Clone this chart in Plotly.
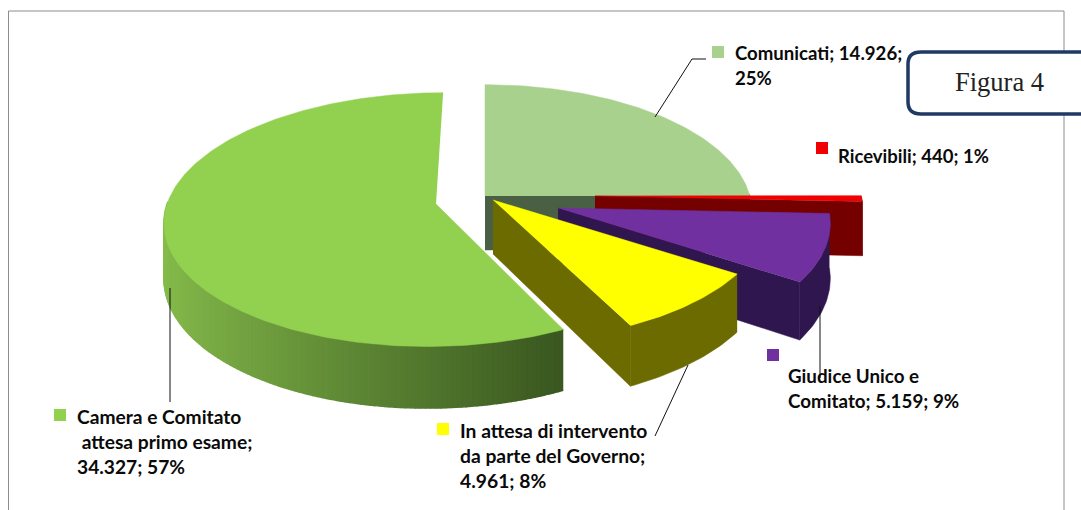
import math
import plotly.graph_objects as go

categories = ["Comunicati", "Ricevibili", "Giudice Unico e Comitato",
              "In attesa di intervento da parte del Governo",
              "Camera e Comitato attesa primo esame"]
values = [14926, 440, 5159, 4961, 34327]
label_lines = [["Comunicati; 14.926;", "25%"],
               ["Ricevibili; 440; 1%"],
               ["Giudice Unico e", "Comitato; 5.159; 9%"],
               ["In attesa di intervento", "da parte del Governo;", "4.961; 8%"],
               ["Camera e Comitato", " attesa primo esame;", "34.327; 57%"]]
top_colors = ["#A9D18E", "#F00000", "#7030A0", "#FFFF00", "#92D050"]
side_colors = ["#4A6044", "#740000", "#30164F", "#6B6B00", "#6FA23F"]
apexes = [(485, 196), (595, 196), (558, 208), (493, 200), (436, 204)]
skews = [0, 0, 0, 0, 8]
radial = [0.97, 0.975, 0.99, 1.0, 0.985]
label_pos = [(735, 53), (838, 156), (788, 375), (460, 430), (77, 416)]
label_sizes = [18.6, 18.5, 18.8, 19.3, 19.2]
swatch_pos = [(718, 52), (822, 148), (773, 355), (443, 429), (60, 415)]
leaders = [[(655, 117), (692, 59), (706, 59)],
           [(820, 306), (820, 378)],
           [(688, 365), (655, 436)],
           [(170, 288), (170, 402)]]

A, B, P, H = 273.0, 125.0, 0.123, 54.0
total = sum(values)


def project(apex, skew, phi, r=1.0, z=0.0, ax=1.0):
    X, Y = r * math.sin(phi), r * math.cos(phi)
    s = 1 / (1 + P * Y)
    return (apex[0] + (A * ax * X + skew * Y) * s, apex[1] - B * Y * s + z * s)


def lerp(c1, c2, t):
    a = [int(c1[i:i + 2], 16) for i in (1, 3, 5)]
    b = [int(c2[i:i + 2], 16) for i in (1, 3, 5)]
    return "rgb(%d,%d,%d)" % tuple(a[i] + (b[i] - a[i]) * t for i in range(3))


fig = go.Figure()


def poly(pts, color, width=0.5):
    fig.add_trace(go.Scatter(x=[p[0] for p in pts], y=[p[1] for p in pts],
                             mode="lines", fill="toself", fillcolor=color,
                             line=dict(color=color, width=width), hoverinfo="skip",
                             showlegend=False))


cum = 0.0
for i, v in enumerate(values):
    start = cum / total * 2 * math.pi
    cum += v
    end = cum / total * 2 * math.pi
    ap, sk, ax = apexes[i], skews[i], radial[i]
    # end radial face, visible when it looks towards the viewer
    if math.pi * 0.4 < end < math.pi * 1.1:
        poly([project(ap, sk, end, 0, 0, ax), project(ap, sk, end, 1, 0, ax),
              project(ap, sk, end, 1, H, ax), project(ap, sk, end, 0, H, ax)], side_colors[i])
    n = max(4, int((end - start) * 60))
    angs = [start + (end - start) * k / n for k in range(n + 1)]
    # outer wall, visible on the front half
    front = [a for a in angs if math.cos(a) <= 0.02]
    if len(front) > 1:
        if i == 4:
            for a0, a1 in zip(front, front[1:]):
                t = (math.sin((a0 + a1) / 2) + 0.97) / 1.4
                col = lerp("#85BB4B", "#3A5820", min(1, max(0, t)))
                poly([project(ap, sk, a0, 1, 0, ax), project(ap, sk, a1, 1, 0, ax),
                      project(ap, sk, a1, 1, H, ax), project(ap, sk, a0, 1, H, ax)], col, 1.5)
        else:
            poly([project(ap, sk, a, 1, 0, ax) for a in front] +
                 [project(ap, sk, a, 1, H, ax) for a in reversed(front)], side_colors[i])
    # top face
    poly([ap] + [project(ap, sk, a, 1, 0, ax) for a in angs], top_colors[i])

for line in leaders:
    fig.add_trace(go.Scatter(x=[p[0] for p in line], y=[p[1] for p in line], mode="lines",
                             line=dict(color="#111111", width=1), hoverinfo="skip",
                             showlegend=False))

fig.add_trace(go.Scatter(x=[p[0] for p in swatch_pos], y=[p[1] for p in swatch_pos], mode="markers",
                         marker=dict(symbol="square", size=12, color=top_colors, line=dict(width=0)),
                         hoverinfo="skip", showlegend=False))

annotations = []
for lines, (x, y), size in zip(label_lines, label_pos, label_sizes):
    for k, t in enumerate(lines):
        txt = t.replace(" ", "&nbsp;", 1) if t.startswith(" ") else t
        annotations.append(dict(x=x, y=y + k * 25, text="<b>" + txt + "</b>",
                                xref="x", yref="y", showarrow=False, xanchor="left", yanchor="middle",
                                xshift=-2, font=dict(family="Lato", size=size, color="#0A0A0A")))
annotations.append(dict(x=999, y=82, text="Figura 4", xref="x", yref="y", showarrow=False,
                        font=dict(family="Liberation Serif", size=26.5, color="#222222")))

shapes = [
    dict(type="rect", xref="x", yref="y", x0=8.5, y0=11, x1=1064, y1=530, layer="below",
         line=dict(color="#8C8C8C", width=1), fillcolor="white"),
    dict(type="path", xref="x", yref="y", layer="above",
         path="M 1100 52 L 921 52 Q 908 52 908 64 L 908 102 Q 908 114 921 114 L 1100 114 Z",
         line=dict(color="#1F3864", width=3.5), fillcolor="white"),
]

fig.update_layout(
    width=1081, height=510, margin=dict(l=0, r=0, t=0, b=0),
    paper_bgcolor="white", plot_bgcolor="white", showlegend=False,
    xaxis=dict(range=[0, 1081], visible=False, fixedrange=True),
    yaxis=dict(range=[510, 0], visible=False, fixedrange=True),
    shapes=shapes, annotations=annotations,
)
fig.write_html("out.html", config=dict(displayModeBar=False),
               post_script="document.body.style.margin='0';document.documentElement.style.overflow='hidden';")
